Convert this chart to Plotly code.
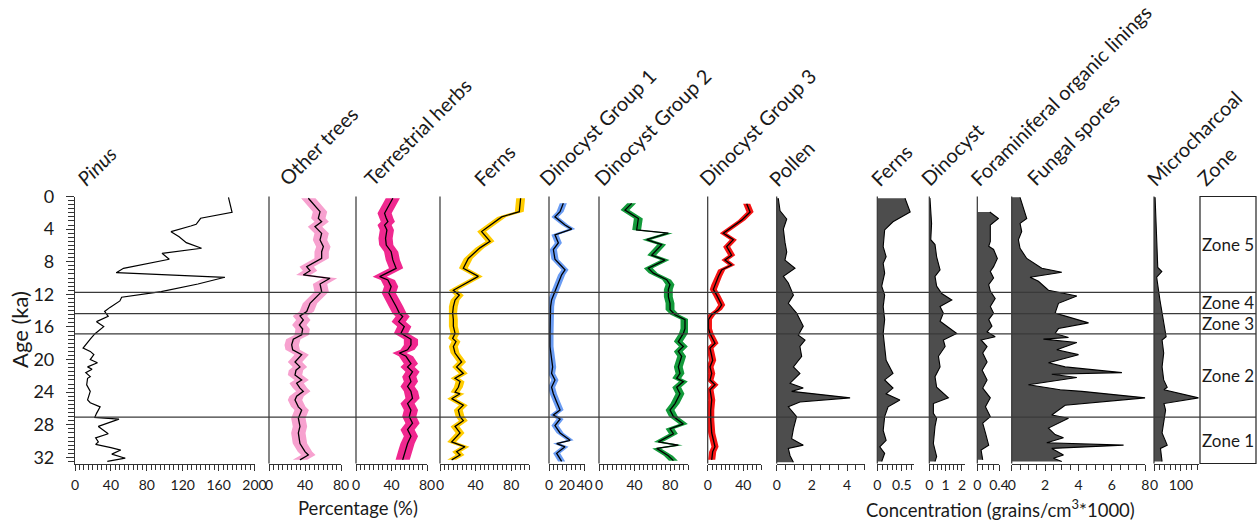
import plotly.graph_objects as go

W, H = 1260, 522

# ---------------- data (age in ka) ----------------
PINUS_AGE = [0.1, 1.94, 2.67, 3.41, 3.62, 4.31, 4.93, 5.66, 6.35, 6.97, 7.70, 8.81, 9.34, 9.91,
             10.73, 11.67, 12.36, 12.81, 13.6, 14.1, 14.7, 15.35, 15.96, 16.86, 17.5, 18.0, 18.6,
             19.0, 19.4, 20.0, 20.4, 20.9, 21.2, 21.6, 22.1, 22.3, 23.1, 23.9, 24.95, 25.3, 25.8,
             26.6, 27.1, 27.3, 28.2, 29.1, 29.6, 30.1, 30.4, 30.8, 31.1, 31.6, 32.1, 32.5]
PINUS = [171, 175, 140, 135, 129, 107, 116, 124, 141, 97, 105, 54, 46, 167,
         137, 96, 52, 50, 39, 33, 37, 24, 32, 22, 17, 13, 9,
         17, 21, 17, 25, 14, 19, 12, 17, 14, 13, 17, 14, 17, 28,
         24, 22, 49, 26, 37, 23, 26, 23, 40, 51, 41, 56, 36]

TREES_AGE = [0.22, 1.86, 2.68, 3.09, 3.70, 4.52, 5.33, 6.15, 6.77, 7.58, 8.61, 9.10, 9.62, 10.03,
             10.73, 11.67, 13.1, 13.7, 14.1, 14.65, 15.14, 15.76, 16.25, 16.98, 17.51, 18.2, 18.8,
             19.4, 20.3, 20.9, 21.3, 21.9, 22.5, 22.9, 23.5, 23.9, 24.5, 24.95, 25.8, 26.2, 27.2,
             28.2, 29.0, 30.3, 30.7, 31.3, 31.7, 32.3]
TREES = [43.7, 56.7, 54.8, 58.5, 51.1, 58.5, 56.7, 60.4, 58.5, 58.5, 41.9, 45.6, 38.1, 67.8,
         56.7, 58.5, 45.6, 43.7, 41.9, 34.4, 38.1, 33.7, 37.4, 36.3, 27.0, 25.2, 26.3,
         36.3, 28.9, 34.4, 30.0, 28.9, 36.3, 30.7, 34.4, 38.1, 30.7, 28.9, 32.6, 36.3, 32.6,
         34.4, 32.6, 34.4, 36.3, 40.0, 43.7, 34.4]

HERBS_AGE = [0.22, 2.06, 2.68, 3.09, 3.50, 4.11, 5.13, 5.95, 6.77, 7.78, 8.81, 9.83, 10.24, 11.05,
             11.87, 12.69, 13.50, 14.32, 14.73, 15.35, 15.96, 16.78, 17.51, 18.2, 18.8, 19.2, 19.6,
             20.5, 20.9, 21.5, 22.1, 22.7, 23.3, 23.9, 24.75, 25.4, 26.2, 27.0, 27.8, 28.6, 29.4,
             30.3, 30.9, 31.5, 32.3]
HERBS = [41.5, 32.2, 34.1, 35.9, 32.2, 34.8, 33.3, 34.1, 39.6, 41.5, 45.2, 26.7, 35.9, 39.6,
         37.0, 41.5, 45.2, 48.9, 52.6, 48.1, 54.4, 50.7, 61.9, 61.9, 58.1, 48.9, 56.3,
         61.9, 58.1, 63.7, 60.0, 61.9, 58.1, 61.9, 63.7, 58.1, 61.9, 60.0, 63.7, 58.1, 61.9,
         58.1, 56.3, 54.4, 52.6]

FERNS_AGE = [0.22, 1.86, 2.5, 3.1, 4.3, 5.5, 6.3, 7.6, 8.8, 9.8, 10.6, 11.5, 12.1, 12.7, 13.5,
             14.3, 15.1, 15.9, 16.8, 17.4, 17.8, 18.4, 19.2, 20.3, 20.9, 21.7, 22.3, 22.7, 23.4,
             24.0, 24.2, 24.8, 25.6, 26.2, 27.0, 27.5, 28.2, 29.0, 30.1, 30.7, 31.3, 31.7, 32.3]
FERNS = [90.6, 89.1, 69.3, 61.8, 46.8, 56.2, 44.9, 31.8, 26.2, 43.1, 30.0, 15.0, 21.7, 16.9, 15.0,
         14.2, 15.0, 15.0, 16.9, 14.2, 18.0, 15.0, 16.9, 24.3, 18.7, 26.2, 16.9, 22.5, 20.6,
         16.9, 22.5, 13.1, 26.2, 20.6, 22.5, 26.2, 16.9, 22.5, 13.1, 28.1, 18.7, 22.5, 13.1]

DINO1_AGE = [0.84, 1.86, 2.5, 3.5, 4.0, 4.7, 5.7, 6.5, 7.7, 9.0, 9.6, 10.6, 11.6, 12.7, 13.5, 15.1,
             16.8, 18.4, 19.2, 20.3, 20.9, 21.7, 22.5, 23.4, 24.2, 25.2, 26.2, 26.8, 27.3, 28.1,
             29.0, 29.9, 30.3, 30.7, 31.5, 32.5]
DINO1 = [16.1, 12.4, 6.7, 18.0, 25.5, 6.7, 10.5, 4.9, 6.7, 18.0, 14.2, 10.5, 6.7, 2.9, 1.8, 1.1,
         1.1, 1.1, 2.2, 2.9, 4.1, 2.9, 6.7, 2.9, 4.9, 8.6, 12.4, 4.9, 12.4, 6.7,
         12.4, 23.7, 8.6, 18.0, 8.6, 14.2]

DINO2_AGE = [0.84, 1.67, 2.7, 4.1, 4.5, 5.3, 5.9, 7.2, 7.8, 8.8, 9.4, 10.2, 10.8, 11.4, 12.3, 13.1,
             13.9, 14.5, 15.1, 16.2, 16.8, 17.8, 18.4, 19.0, 19.6, 20.9, 21.7, 22.3, 22.7, 23.4,
             24.2, 25.4, 26.2, 27.0, 27.9, 28.5, 29.1, 30.1, 30.5, 30.9, 31.8, 32.4]
DINO2 = [36.7, 29.2, 44.2, 42.3, 77.9, 53.6, 70.4, 59.2, 74.2, 55.4, 61.0, 76.0, 79.8, 77.9, 77.9,
         79.8, 79.8, 85.4, 96.6, 96.6, 94.8, 89.1, 94.8, 89.1, 92.9, 89.1, 91.0, 87.3, 94.8, 87.3,
         91.0, 85.4, 79.8, 83.6, 94.8, 79.8, 83.6, 66.7, 89.1, 64.8, 77.9, 83.6]

DINO3_AGE = [0.9, 1.9, 2.9, 4.5, 5.3, 6.15, 7.2, 7.8, 8.4, 9.0, 9.8, 10.8, 11.4, 12.1, 13.3, 13.9,
             14.5, 15.1, 16.2, 16.8, 18.0, 18.6, 20.1, 20.9, 21.7, 22.5, 23.1, 23.7, 24.95, 26.2,
             27.4, 29.0, 30.7, 31.3, 32.3]
DINO3 = [43.8, 47.6, 38.2, 17.6, 28.8, 21.3, 26.9, 19.4, 26.9, 15.7, 12.0, 8.2, 6.3, 10.1, 15.7,
         12.0, 4.5, 0.8, 0.8, 2.6, 8.2, 2.6, 5.6, 2.6, 4.5, 2.6, 8.2, 2.6, 4.5, 3.4,
         3.4, 4.5, 8.2, 5.6, 4.5]

POLLEN_C_AGE = [0.22, 1.75, 2.76, 4.0, 5.6, 6.8, 7.8, 8.8, 9.8, 10.6, 12.1, 13.1, 14.3, 15.9, 17.0,
                17.6, 18.4, 19.6, 20.9, 21.7, 22.9, 23.5, 23.9, 24.7, 25.2, 25.8, 27.0, 28.5, 29.7,
                30.5, 30.9, 31.8, 32.6]
POLLEN_C = [0.09, 0.19, 0.57, 0.38, 0.47, 0.57, 0.47, 1.04, 0.38, 0.66, 0.95, 0.66, 1.13, 1.51, 1.23,
            1.61, 1.32, 1.42, 0.95, 1.32, 0.76, 1.51, 0.85, 4.17, 1.32, 0.66, 1.13, 0.95, 0.85,
            1.51, 0.66, 0.76, 0.95]

FERNS_C_AGE = [0.22, 1.9, 3.1, 4.1, 6.15, 7.4, 8.2, 9.4, 11.0, 12.1, 13.5, 15.1, 16.8, 18.4, 20.1,
               21.7, 22.5, 23.5, 24.2, 24.95, 25.8, 27.0, 28.7, 29.9, 30.7, 31.5, 32.5]
FERNS_C = [0.565, 0.67, 0.32, 0.15, 0.12, 0.18, 0.12, 0.15, 0.09, 0.15, 0.12, 0.15, 0.12, 0.15, 0.18,
           0.32, 0.15, 0.32, 0.18, 0.46, 0.22, 0.15, 0.12, 0.18, 0.05, 0.15, 0.09]

DINO_C_AGE = [0.2, 3.3, 5.3, 5.9, 7.4, 9.0, 9.8, 11.0, 11.9, 12.7, 13.5, 14.3, 15.3, 16.8, 17.6,
              18.4, 19.6, 20.9, 22.1, 23.4, 24.7, 25.4, 26.6, 27.2, 28.2, 30.3, 31.9, 32.5]
DINO_C = [0.04, 0.14, 0.09, 0.35, 0.45, 0.66, 0.35, 0.45, 0.76, 1.38, 0.66, 0.86, 0.66, 1.68, 0.86,
          0.97, 0.56, 0.66, 0.35, 0.45, 1.17, 0.25, 0.25, 0.45, 0.35, 0.25, 0.45, 0.35]

FORAM_C_AGE = [1.9, 2.7, 3.5, 5.5, 6.1, 6.5, 7.6, 8.6, 9.2, 10.0, 10.8, 11.6, 12.5, 13.5, 14.3,
               15.1, 15.9, 16.6, 17.2, 17.6, 18.4, 19.2, 20.3, 21.3, 22.5, 23.5, 24.7, 25.8, 27.0,
               27.8, 29.0, 30.5, 31.1, 32.3]
FORAM_C = [0.23, 0.39, 0.24, 0.24, 0.21, 0.30, 0.37, 0.30, 0.24, 0.30, 0.21, 0.24, 0.33, 0.24, 0.30,
           0.21, 0.27, 0.18, 0.33, 0.07, 0.18, 0.10, 0.18, 0.09, 0.18, 0.10, 0.24, 0.15, 0.24,
           0.10, 0.15, 0.21, 0.07, 0.10]

FUNGAL_C_AGE = [0.1, 2.7, 3.3, 4.3, 5.3, 6.35, 7.6, 8.8, 9.3, 9.9, 10.4, 11.5, 12.2, 13.1, 14.3,
                15.5, 16.2, 16.8, 17.3, 17.5, 17.9, 18.8, 19.4, 20.4, 20.9, 21.6, 21.8, 22.2, 23.1,
                23.7, 23.9, 24.7, 25.6, 26.8, 27.2, 28.4, 29.2, 29.6, 30.2, 30.5, 30.9, 31.7, 32.1,
                32.5]
FUNGAL_C = [0.5, 0.9, 0.5, 0.6, 0.4, 0.5, 0.9, 1.8, 3.0, 1.1, 1.6, 2.2, 3.9, 2.8, 2.6,
            4.6, 2.8, 2.6, 3.4, 1.9, 3.9, 2.7, 4.0, 2.2, 3.2, 6.6, 2.4, 3.9, 1.0,
            2.9, 4.2, 8.0, 3.2, 2.4, 3.4, 2.2, 2.6, 3.1, 2.1, 6.7, 2.4, 3.1, 2.5, 3.0]

CHAR_AGE = [0.1, 6.0, 8.7, 9.2, 9.9, 12.7, 14.3, 16.0, 17.2, 17.6, 19.2, 20.9, 22.5, 23.4, 23.7,
            24.7, 25.4, 26.2, 27.4, 29.0, 30.5, 30.9, 32.5]
CHAR = [4, 10, 14, 29, 10, 22, 30, 40, 45, 30, 36, 30, 36, 49, 37,
        165, 37, 43, 37, 30, 49, 24, 30]

ZONE_BOUNDS = [11.75, 14.37, 16.86, 27.07]
ZONE_NAMES = ["Zone 5", "Zone 4", "Zone 3", "Zone 2", "Zone 1"]

# ---------------- layout geometry (pixels) ----------------
AGE_MAX = 32.75
TOP, BOT = 196.5, 463.5
FONT = "Lato, 'Open Sans', sans-serif"
INK = "#1a1a1a"
TITLE_SIZE = 20


def fx(p):
    return p / W


def fy(p):
    return 1 - p / H


# name, x0, x1, range max, major dtick, minor dtick, kind, colour, band half-width, data, title x
PANELS = [
    ("<i>Pinus</i>", 75, 254.5, 200, 40, 5, "line", None, 0, PINUS_AGE, PINUS, 83),
    ("Other trees", 269, 341, 80, 40, 5, "band", "#f7a1cf", 8, TREES_AGE, TREES, 285),
    ("Terrestrial herbs", 356, 427, 80, 40, 5, "band", "#f0288f", 8, HERBS_AGE, HERBS, 370),
    ("Ferns", 440, 529, 100, 40, 5, "band", "#ffcc00", 5, FERNS_AGE, FERNS, 480),
    ("Dinocyst Group 1", 549, 584.6, 40, 20, 5, "band", "#6a9cf3", 4, DINO1_AGE, DINO1, 545),
    ("Dinocyst Group 2", 599, 688, 100, 40, 5, "band", "#139a3b", 5, DINO2_AGE, DINO2, 600),
    ("Dinocyst Group 3", 707.7, 761.1, 60, 40, 5, "band", "#f51414", 4, DINO3_AGE, DINO3, 705),
    ("Pollen", 776.7, 864.7, 5, 2, 0.5, "area", None, 0, POLLEN_C_AGE, POLLEN_C, 775),
    ("Ferns", 877.3, 914.1, 0.75, 0.5, 0.1, "area", None, 0, FERNS_C_AGE, FERNS_C, 877),
    ("Dinocyst", 929.3, 965.2, 2.2, 1, 0.25, "area", None, 0, DINO_C_AGE, DINO_C, 927),
    ("Foraminiferal organic linings", 977.3, 999, 0.4, 0.4, 0.1, "area", None, 0,
     FORAM_C_AGE, FORAM_C, 977),
    ("Fungal spores", 1011.7, 1145.3, 8, 2, 0.5, "area", None, 0, FUNGAL_C_AGE, FUNGAL_C, 1033),
    ("Microcharcoal", 1154, 1199, 167, 100, 20, "area", None, 0, CHAR_AGE, CHAR, 1153),
]

fig = go.Figure()
layout = dict(
    width=W, height=H, margin=dict(l=0, r=0, t=0, b=0, autoexpand=False),
    paper_bgcolor="white", plot_bgcolor="white", showlegend=False,
    font=dict(family=FONT, color=INK),
)

shapes = []
annotations = []

for i, (name, x0, x1, rmax, dt, mdt, kind, col, hw, ages, vals, tx) in enumerate(PANELS):
    ax = "xaxis" if i == 0 else f"xaxis{i + 1}"
    ref = "x" if i == 0 else f"x{i + 1}"
    layout[ax] = dict(
        domain=[fx(x0), fx(x1)], range=[0, rmax], anchor="y",
        showline=True, linecolor="#333333", linewidth=1,
        ticks="outside", ticklen=6, tickwidth=1, tickcolor="#333333",
        tick0=0, dtick=dt, showgrid=False, zeroline=False, tickangle=0,
        tickfont=dict(size=14, family=FONT, color=INK), ticklabelstandoff=3,
        minor=dict(dtick=mdt, tick0=0, ticks="outside", ticklen=5, tickwidth=1,
                   tickcolor="#333333", showgrid=False),
    )
    if kind == "band":
        bx = [v + hw for v in vals] + [v - hw for v in vals[::-1]]
        by = list(ages) + list(ages[::-1])
        fig.add_trace(go.Scatter(x=bx, y=by, xaxis=ref, yaxis="y", mode="lines",
                                 fill="toself", fillcolor=col, line=dict(width=0, color=col),
                                 hoverinfo="skip"))
        fig.add_trace(go.Scatter(x=vals, y=ages, xaxis=ref, yaxis="y", mode="lines",
                                 line=dict(color="black", width=1.3)))
    elif kind == "area":
        fig.add_trace(go.Scatter(x=vals, y=ages, xaxis=ref, yaxis="y", mode="lines",
                                 fill="tozerox", fillcolor="#4d4d4d",
                                 line=dict(color="black", width=1.1)))
    else:
        fig.add_trace(go.Scatter(x=vals, y=ages, xaxis=ref, yaxis="y", mode="lines",
                                 line=dict(color="black", width=1.2)))
    if i > 0:
        shapes.append(dict(type="line", xref="paper", yref="paper",
                           x0=fx(x0), x1=fx(x0), y0=fy(BOT), y1=fy(TOP),
                           line=dict(color="#333333", width=1.2)))
    annotations.append(dict(text=name, xref="paper", yref="paper", x=fx(tx - 14), y=fy(193),
                            xanchor="left", yanchor="bottom", textangle=-45, showarrow=False,
                            font=dict(size=TITLE_SIZE, family=FONT, color=INK)))

layout["yaxis"] = dict(
    domain=[fy(BOT), fy(TOP)], range=[AGE_MAX, 0], anchor="x",
    showline=True, linecolor="#333333", linewidth=1.2,
    ticks="outside", ticklen=8, tickwidth=1, tickcolor="#333333",
    tick0=0, dtick=4, showgrid=False, zeroline=False,
    tickfont=dict(size=18, family=FONT, color=INK), ticklabelstandoff=8,
    minor=dict(dtick=0.5, tick0=0, ticks="outside", ticklen=6, tickwidth=1,
               tickcolor="#333333", showgrid=False),
)

# zone column
ZX0, ZX1 = 1200, 1256
shapes.append(dict(type="rect", xref="paper", yref="paper", x0=fx(ZX0), x1=fx(ZX1),
                   y0=fy(BOT), y1=fy(TOP), line=dict(color="#222222", width=1.2)))
for b in ZONE_BOUNDS:
    shapes.append(dict(type="line", xref="paper", yref="y", x0=fx(75), x1=fx(ZX1), y0=b, y1=b,
                       line=dict(color="#3a3a3a", width=1.2)))
edges = [0] + ZONE_BOUNDS + [AGE_MAX]
for k, zn in enumerate(ZONE_NAMES):
    mid = (edges[k] + edges[k + 1]) / 2
    annotations.append(dict(text=zn, xref="paper", yref="y", x=fx((ZX0 + ZX1) / 2), y=mid,
                            xanchor="center", yanchor="middle", showarrow=False,
                            font=dict(size=17, family=FONT, color=INK)))
annotations.append(dict(text="Zone", xref="paper", yref="paper", x=fx(1203 - 14), y=fy(193),
                        xanchor="left", yanchor="bottom", textangle=-45, showarrow=False,
                        font=dict(size=TITLE_SIZE, family=FONT, color=INK)))

# axis titles
annotations.append(dict(text="Age (ka)", xref="paper", yref="paper", x=fx(19), y=fy(330),
                        xanchor="center", yanchor="middle", textangle=-90, showarrow=False,
                        font=dict(size=22, family=FONT, color=INK)))
annotations.append(dict(text="Percentage (%)", xref="paper", yref="paper", x=fx(358), y=fy(508),
                        xanchor="center", yanchor="middle", showarrow=False,
                        font=dict(size=18.5, family=FONT, color=INK)))
annotations.append(dict(text="Concentration (grains/cm<sup>3</sup>*1000)", xref="paper",
                        yref="paper", x=fx(1000), y=fy(508), xanchor="center", yanchor="middle",
                        showarrow=False, font=dict(size=18.5, family=FONT, color=INK)))

layout["shapes"] = shapes
layout["annotations"] = annotations
fig.update_layout(**layout)
fig.write_html("out.html")
